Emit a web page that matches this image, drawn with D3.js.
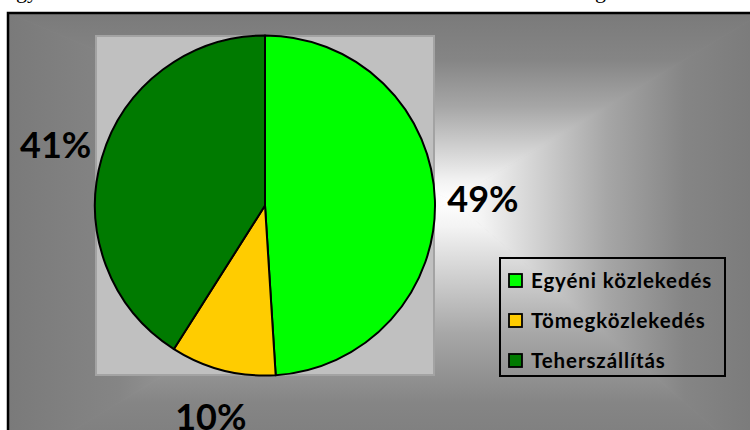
<!DOCTYPE html>
<html>
<head>
<meta charset="utf-8">
<script src="https://cdn.jsdelivr.net/npm/d3@7"></script>
<style>
  html, body { margin: 0; padding: 0; background: #ffffff; overflow: hidden; }
  svg { display: block; }
</style>
</head>
<body>
<svg id="chart" width="750" height="430"></svg>
<script>
// ---- data ----
const categories = ["Egyéni közlekedés", "Tömegközlekedés", "Teherszállítás"];
const values = [49, 10, 41];
const labels = ["49%", "10%", "41%"];
const colors = ["#00ff00", "#ffcc00", "#007a00"];

const svg = d3.select("#chart");
const defs = svg.append("defs");

// ---- partial text from the page above (only descenders visible) ----
svg.append("text").attr("x", 16).attr("y", -2)
  .attr("font-family", "Liberation Serif").attr("font-size", 22).text("gy");
svg.append("text").attr("x", 595).attr("y", -2)
  .attr("font-family", "Liberation Serif").attr("font-size", 22).text("g");

// ---- chart area with rectangular "from center" gradient ----
const box = { x0: 8, y0: 13, x1: 762, y1: 470 };
const C = { x: 452, y: 200 };
const stops = [
  [0, "#ffffff"], [0.1, "#f3f3f3"], [0.25, "#d6d6d6"],
  [0.5, "#a6a6a6"], [0.75, "#858585"], [1, "#7a7a7a"]
];
const tris = [
  { id: "gT", pts: [[box.x0, box.y0], [box.x1, box.y0]], to: [C.x, box.y0] },
  { id: "gR", pts: [[box.x1, box.y0], [box.x1, box.y1]], to: [box.x1, C.y] },
  { id: "gB", pts: [[box.x1, box.y1], [box.x0, box.y1]], to: [C.x, box.y1] },
  { id: "gL", pts: [[box.x0, box.y1], [box.x0, box.y0]], to: [box.x0, C.y] }
];
svg.append("rect").attr("x", box.x0).attr("y", box.y0)
  .attr("width", box.x1 - box.x0).attr("height", box.y1 - box.y0)
  .attr("fill", "#a0a0a0");
tris.forEach(t => {
  const g = defs.append("linearGradient").attr("id", t.id)
    .attr("gradientUnits", "userSpaceOnUse")
    .attr("x1", C.x).attr("y1", C.y).attr("x2", t.to[0]).attr("y2", t.to[1]);
  stops.forEach(s => g.append("stop").attr("offset", s[0]).attr("stop-color", s[1]));
  svg.append("polygon")
    .attr("points", [[C.x, C.y], t.pts[0], t.pts[1]].map(p => p.join(",")).join(" "))
    .attr("fill", `url(#${t.id})`)
    .attr("stroke", `url(#${t.id})`).attr("stroke-width", 0.8);
});
svg.append("rect").attr("x", box.x0).attr("y", box.y0)
  .attr("width", box.x1 - box.x0).attr("height", box.y1 - box.y0)
  .attr("fill", "none").attr("stroke", "#000").attr("stroke-width", 2.5);

// ---- plot area ----
const plot = { x: 96, y: 36, w: 338, h: 339 };
svg.append("rect").attr("x", plot.x).attr("y", plot.y)
  .attr("width", plot.w).attr("height", plot.h)
  .attr("fill", "#c0c0c0").attr("stroke", "#a3a3a3").attr("stroke-width", 2);

// ---- pie ----
const cx = plot.x + plot.w / 2, cy = plot.y + plot.h / 2;
const R = 170;
const pie = d3.pie().sort(null).value(d => d);
const arcs = pie(values);
const arc = d3.arc().innerRadius(0).outerRadius(R);
const labelArc = d3.arc().innerRadius(218).outerRadius(218);

const g = svg.append("g").attr("transform", `translate(${cx},${cy})`);
g.selectAll("path.slice").data(arcs).enter().append("path")
  .attr("class", "slice")
  .attr("d", arc)
  .attr("fill", (d, i) => colors[i])
  .attr("stroke", "#000").attr("stroke-width", 2).attr("stroke-linejoin", "round");

g.selectAll("text.lbl").data(arcs).enter().append("text")
  .attr("class", "lbl")
  .attr("transform", d => `translate(${labelArc.centroid(d)})`)
  .attr("text-anchor", "middle").attr("dy", "0.36em")
  .attr("font-family", "Lato").attr("font-weight", "bold").attr("font-size", 36)
  .attr("fill", "#000")
  .text((d, i) => labels[i]);

// ---- legend ----
const lg = { x: 500, y: 258, w: 225, h: 118 };
svg.append("rect").attr("x", lg.x).attr("y", lg.y).attr("width", lg.w).attr("height", lg.h)
  .attr("fill", "none").attr("stroke", "#000").attr("stroke-width", 2);
const rowY = d3.scalePoint().domain(categories).range([281, 361]);
const items = svg.selectAll("g.item").data(categories).enter().append("g")
  .attr("class", "item")
  .attr("transform", d => `translate(${lg.x + 9},${rowY(d)})`);
items.append("rect").attr("x", 0).attr("y", -7).attr("width", 13).attr("height", 13)
  .attr("fill", (d, i) => colors[i]).attr("stroke", "#000").attr("stroke-width", 1.8);
items.append("text").attr("x", 22).attr("y", 0).attr("dy", "0.36em")
  .attr("font-family", "Lato").attr("font-weight", "bold").attr("font-size", 20.5)
  .attr("letter-spacing", 0.9)
  .attr("fill", "#000")
  .text(d => d);
</script>
</body>
</html>
